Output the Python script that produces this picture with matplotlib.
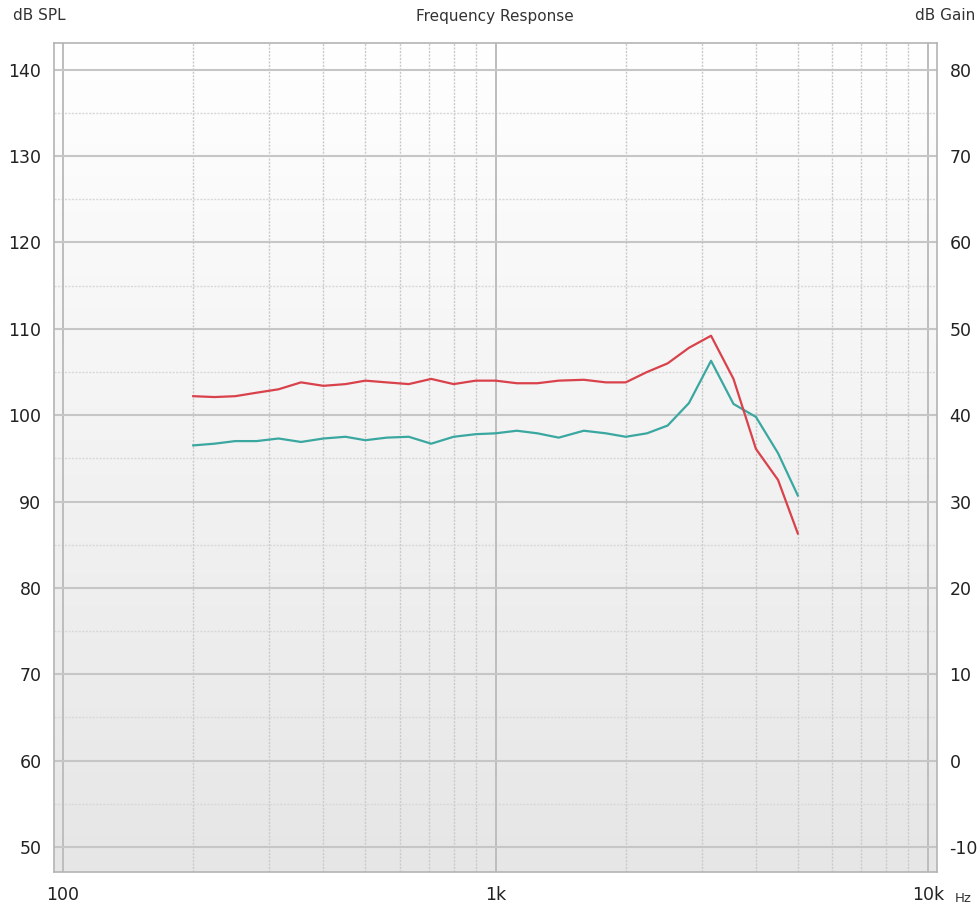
import numpy as np
import matplotlib.pyplot as plt
from matplotlib.colors import LinearSegmentedColormap
from matplotlib.ticker import FixedLocator, NullFormatter

plt.rcParams['axes.unicode_minus'] = False

# 1/6-octave measurement points
freqs = [200, 224, 250, 280, 315, 355, 400, 450, 500, 560, 630, 710, 800, 900,
         1000, 1120, 1250, 1400, 1600, 1800, 2000, 2240, 2500, 2800, 3150,
         3550, 4000, 4500, 5000]

# output level, dB SPL
spl_red = [102.2, 102.1, 102.2, 102.6, 103.0, 103.8, 103.4, 103.6, 104.0, 103.8,
           103.6, 104.2, 103.6, 104.0, 104.0, 103.7, 103.7, 104.0, 104.1, 103.8,
           103.8, 105.0, 106.0, 107.8, 109.2, 104.2, 96.1, 92.5, 86.3]
spl_teal = [96.5, 96.7, 97.0, 97.0, 97.3, 96.9, 97.3, 97.5, 97.1, 97.4,
            97.5, 96.7, 97.5, 97.8, 97.9, 98.2, 97.9, 97.4, 98.2, 97.9,
            97.5, 97.9, 98.8, 101.4, 106.3, 101.3, 99.8, 95.6, 90.7]

spl_ticks = [50, 60, 70, 80, 90, 100, 110, 120, 130, 140]
gain_offset = 60  # dB Gain = dB SPL - 60
x_ticks = [100, 1000, 10000]
x_labels = ['100', '1k', '10k']

fig = plt.figure(figsize=(9.79, 9.09), dpi=100)
ax = fig.add_axes([54 / 979, 37 / 909, 883 / 979, 829 / 909])

# soft vertical gradient behind the plot
grad = LinearSegmentedColormap.from_list('bg', ['#e6e6e6', '#ffffff'])
ax.imshow(np.linspace(0, 1, 256).reshape(-1, 1), extent=[0, 1, 0, 1],
          transform=ax.transAxes, aspect='auto', cmap=grad, origin='lower',
          zorder=0)

ax.set_xscale('log')
ax.set_xlim(95.3, 10490)
ax.set_ylim(47.1, 143.1)

ax.plot(freqs, spl_teal, color='#3aa7a0', lw=1.6, zorder=3)
ax.plot(freqs, spl_red, color='#d9414b', lw=1.6, zorder=4)

# grid
minor_x = [m * 10 ** e for e in (2, 3) for m in range(2, 10)]
for f in minor_x:
    ax.axvline(f, color='#cacaca', lw=1.0, ls=(0, (1.5, 1)), zorder=1)
for f in x_ticks:
    ax.axvline(f, color='#bdbdbd', lw=1.4, zorder=1.5)
for v in range(55, 145, 10):
    ax.axhline(v, color='#d8d8d8', lw=1.0, ls=(0, (1.5, 1)), zorder=1)
for v in spl_ticks:
    ax.axhline(v, color='#c6c6c6', lw=1.5, zorder=1.5)

ax.xaxis.set_major_locator(FixedLocator(x_ticks))
ax.xaxis.set_minor_formatter(NullFormatter())
ax.set_xticks(x_ticks, x_labels)
ax.set_yticks(spl_ticks)
ax.tick_params(axis='both', which='both', length=0, labelsize=12.5,
               colors='#222222', pad=9)
ax.tick_params(axis='x', pad=10)
for s in ax.spines.values():
    s.set_color('#b4b4b4')
    s.set_linewidth(1.2)

ax2 = ax.twinx()
ax2.set_ylim(47.1 - gain_offset, 143.1 - gain_offset)
ax2.set_yticks([t - gain_offset for t in spl_ticks])
ax2.tick_params(axis='y', length=0, labelsize=12.5, colors='#222222', pad=9)
for s in ax2.spines.values():
    s.set_visible(False)

fig.text(13 / 979, 1 - 16 / 909, 'dB SPL', fontsize=11, color='#333333',
         ha='left', va='center')
fig.text(495 / 979, 1 - 16 / 909, 'Frequency Response', fontsize=11,
         color='#333333', ha='center', va='center')
fig.text(975 / 979, 1 - 16 / 909, 'dB Gain', fontsize=11, color='#333333',
         ha='right', va='center')
fig.text(955 / 979, 1 - 898 / 909, 'Hz', fontsize=9.5, color='#333333',
         ha='left', va='center')

fig.savefig('out.png', dpi=100, facecolor='white')
